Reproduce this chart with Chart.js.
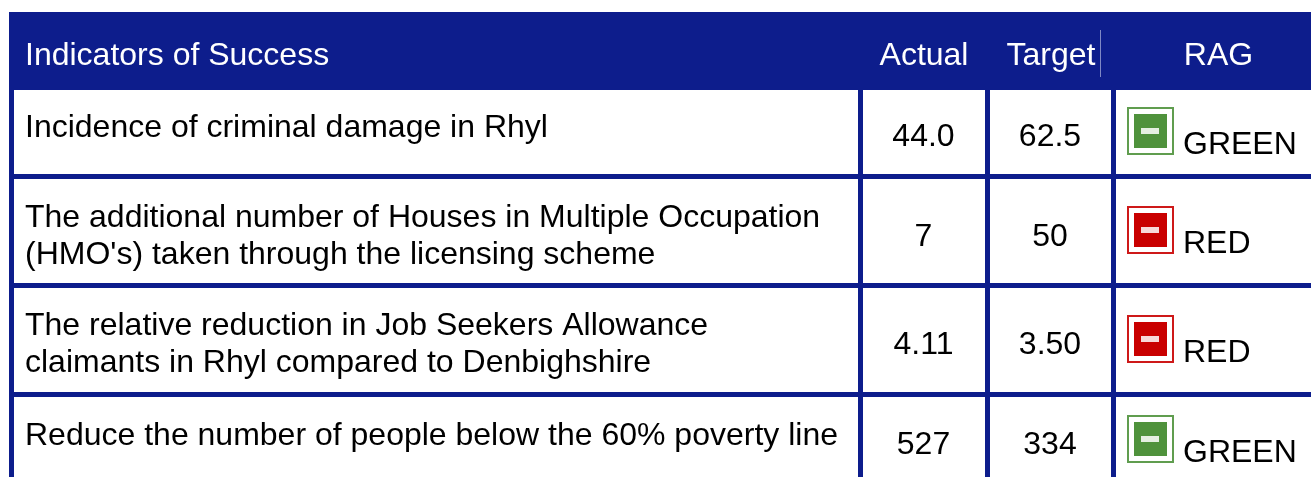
<!DOCTYPE html>
<html><head><meta charset="utf-8">
<style>html,body{margin:0;padding:0;background:#fff;overflow:hidden}#w{position:relative;width:1311px;height:477px}</style>
<script src="https://cdn.jsdelivr.net/npm/chart.js@4"></script>
</head><body><div id="w"><canvas id="c" width="1311" height="477"></canvas></div>
<script>
// --- data ---
const columnTitles = ['Indicators of Success','Actual','Target','RAG'];
const indicators = [
  ['Incidence of criminal damage in Rhyl'],
  ['The additional number of Houses in Multiple Occupation',"(HMO's) taken through the licensing scheme"],
  ['The relative reduction in Job Seekers Allowance','claimants in Rhyl compared to Denbighshire'],
  ['Reduce the number of people below the 60% poverty line']
];
const actual = ['44.0','7','4.11','527'];
const target = ['62.5','50','3.50','334'];
const rag = ['GREEN','RED','RED','GREEN'];

// --- layout (kept apart from the data) ---
const NAVY='#0d1d8c', FONT='"Liberation Sans", Arial, sans-serif', SIZE=32;
const LEFT=9, TOP=12, WIDTH=1311, HEIGHT=477;
const colRules=[11.5,860.5,987.5,1113.5], rowRules=[176.5,285.5,394.5];
const HEADER=[12,90], HEADER_BASE=65, HEADER_SPLIT=1100.5;
const headerX=[25,924,1051,1218.5];
const valueX=[923.5,1050], iconX=1150.5, ragTextX=1183;
const indicatorBase=[[137],[227,264],[335,372],[445]];
const valueBase=[146,246,354,454];
const iconY=[131,230,339,439];
const ragBase=[154,253,362,462];
const RAG_COL={GREEN:'#4f923c',RED:'#c90000'};

function icon(col){
  const c=document.createElement('canvas');c.width=47;c.height=48;
  const g=c.getContext('2d');
  g.fillStyle='#fff';g.fillRect(0,0,47,48);
  g.filter='blur(0.5px)';
  g.strokeStyle=col;g.globalAlpha=.9;g.lineWidth=2;g.strokeRect(1,1,45,46);
  g.globalAlpha=1;g.filter='blur(0.7px)';g.fillStyle=col;g.fillRect(7,7,33,34);
  g.fillStyle='#fff';g.globalAlpha=.85;g.fillRect(14,21,18,6);
  return c;
}
const icons={GREEN:icon(RAG_COL.GREEN),RED:icon(RAG_COL.RED)};

const tablePlugin={
  id:'table',
  beforeDatasetsDraw(ch){
    const {ctx,scales:{x,y}}=ch;
    ctx.save();ctx.fillStyle=NAVY;
    ctx.fillRect(x.getPixelForValue(LEFT),y.getPixelForValue(HEADER[0]),x.getPixelForValue(WIDTH)-x.getPixelForValue(LEFT),y.getPixelForValue(HEADER[1])-y.getPixelForValue(HEADER[0]));
    ctx.strokeStyle='#7f88c4';ctx.lineWidth=1;ctx.beginPath();
    ctx.moveTo(x.getPixelForValue(HEADER_SPLIT),y.getPixelForValue(30));ctx.lineTo(x.getPixelForValue(HEADER_SPLIT),y.getPixelForValue(77));ctx.stroke();
    ctx.restore();
  },
  afterDatasetsDraw(ch){
    const {ctx,scales:{x,y}}=ch;
    const put=(s,px,py,al)=>{ctx.textAlign=al;ctx.fillText(s,x.getPixelForValue(px),y.getPixelForValue(py));};
    ctx.save();ctx.font=SIZE+'px '+FONT;ctx.textBaseline='alphabetic';
    ctx.fillStyle='#ffffff';
    columnTitles.forEach((t,i)=>put(t,headerX[i],HEADER_BASE,i?'center':'left'));
    ctx.fillStyle='#000000';
    indicators.forEach((ls,r)=>ls.forEach((l,k)=>put(l,25,indicatorBase[r][k],'left')));
    actual.forEach((v,r)=>put(v,valueX[0],valueBase[r],'center'));
    target.forEach((v,r)=>put(v,valueX[1],valueBase[r],'center'));
    rag.forEach((v,r)=>put(v,ragTextX,ragBase[r],'left'));
    ctx.restore();
  }
};

new Chart(document.getElementById('c'),{
  type:'scatter',
  data:{datasets:[{
    label:'RAG',
    data:rag.map((_,r)=>({x:iconX,y:iconY[r]})),
    pointStyle:rag.map(v=>icons[v]),
    pointRadius:24
  }]},
  options:{
    responsive:false,animation:false,
    layout:{padding:{left:LEFT,top:TOP,right:0,bottom:0},autoPadding:false},
    plugins:{legend:{display:false},tooltip:{enabled:false},title:{display:false}},
    scales:{
      x:{type:'linear',position:'top',min:LEFT,max:WIDTH,display:true,
        afterFit(s){s.height=0;},
        afterBuildTicks(s){s.ticks=colRules.map(v=>({value:v}));},
        ticks:{display:false},border:{display:false},
        grid:{color:NAVY,lineWidth:5,drawTicks:false,drawOnChartArea:true}},
      y:{type:'linear',reverse:true,min:TOP,max:HEIGHT,display:true,
        afterFit(s){s.width=0;},
        afterBuildTicks(s){s.ticks=rowRules.map(v=>({value:v}));},
        ticks:{display:false},border:{display:false},
        grid:{color:NAVY,lineWidth:5,drawTicks:false}}
    }
  },
  plugins:[tablePlugin]
});
</script></body></html>
